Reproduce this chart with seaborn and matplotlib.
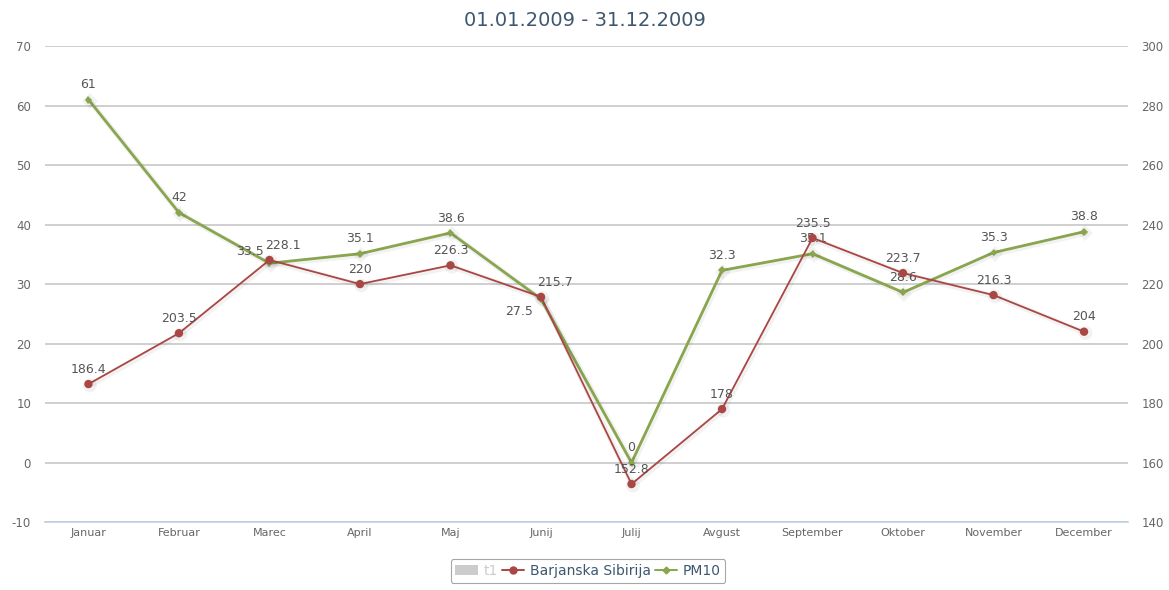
import matplotlib
matplotlib.use("Agg")
import matplotlib.pyplot as plt
import matplotlib.patheffects as pe
from matplotlib.lines import Line2D
from matplotlib.patches import Patch
import seaborn as sns
import pandas as pd

months = ["Januar", "Februar", "Marec", "April", "Maj", "Junij", "Julij",
          "Avgust", "September", "Oktober", "November", "December"]
pm10 = [61, 42, 33.5, 35.1, 38.6, 27.5, 0, 32.3, 35.1, 28.6, 35.3, 38.8]
sibirija = [186.4, 203.5, 228.1, 220, 226.3, 215.7, 152.8, 178, 235.5, 223.7, 216.3, 204]
title = "01.01.2009 - 31.12.2009"

RED = "#AA4643"
GREEN = "#89A54E"
GRID = "#CFCFCF"
AXIS = "#C0D0E0"
LABEL = "#666666"

sns.set_theme(style="white")
plt.rcParams["font.family"] = ["DejaVu Sans"]
plt.rcParams["axes.unicode_minus"] = False

df = pd.DataFrame({"month": months, "x": range(len(months)),
                   "pm10": pm10, "sibirija": sibirija})

fig = plt.figure(figsize=(11.69, 5.90), dpi=100)
ax = fig.add_axes([0.0385, 0.115, 0.926, 0.807])
ax2 = ax.twinx()

shadow = [pe.SimpleLineShadow(offset=(1, -1), shadow_color="#000000", alpha=0.05, linewidth=4),
          pe.Normal()]

sns.lineplot(data=df, x="x", y="pm10", ax=ax, color=GREEN, lw=2,
             marker="D", markersize=4, markeredgewidth=0, zorder=3,
             path_effects=shadow)
sns.lineplot(data=df, x="x", y="sibirija", ax=ax2, color=RED, lw=1.3,
             marker="o", markersize=6, markeredgewidth=0, zorder=4,
             path_effects=shadow)

ax.set_xlim(-0.48, len(months) - 0.52)
ax.set_ylim(-10, 70)
ax2.set_ylim(140, 300)
ax.set_yticks(range(-10, 71, 10))
ax2.set_yticks(range(140, 301, 20))

ax.grid(axis="y", color=GRID, lw=1.4)
ax.set_axisbelow(True)
for a in (ax, ax2):
    for s in a.spines.values():
        s.set_visible(False)
    a.set_xlabel("")
    a.set_ylabel("")
    a.tick_params(axis="y", length=0, labelsize=8.5, labelcolor=LABEL, pad=10)
ax.spines["bottom"].set_visible(True)
ax.spines["bottom"].set_color(AXIS)
ax.spines["bottom"].set_linewidth(1.2)

ax.set_xticks(range(len(months)))
ax.set_xticklabels(months)
ax.tick_params(axis="x", length=5, color=AXIS, width=1, labelsize=8,
               labelcolor=LABEL, pad=2, direction="inout")

# value labels above each point; a few PM10 labels shifted where the series cross
pm10_offsets = {2: (-14, 4), 5: (-16, -4)}
for i, v in enumerate(pm10):
    dx, dy = pm10_offsets.get(i, (0, 6))
    ax.annotate(f"{v:g}", (i, v), xytext=(dx, dy), textcoords="offset points",
                ha="center", va="bottom" if dy > 0 else "top",
                fontsize=9, color="#555555", zorder=6)
sib_offsets = {2: (10, 6), 5: (10, 6)}
for i, v in enumerate(sibirija):
    dx, dy = sib_offsets.get(i, (0, 6))
    ax2.annotate(f"{v:g}", (i, v), xytext=(dx, dy), textcoords="offset points",
                 ha="center", va="bottom", fontsize=9, color="#555555", zorder=6)

fig.text(0.5, 0.965, title, ha="center", va="center", fontsize=14, color="#3E576F")

handles = [
    Patch(facecolor="#CCCCCC", edgecolor="none"),
    Line2D([], [], color=RED, marker="o", markersize=5, lw=1.4),
    Line2D([], [], color=GREEN, marker="D", markersize=3.5, lw=1.4),
]
leg = fig.legend(handles, ["t1", "Barjanska Sibirija", "PM10"], loc="lower center",
                 bbox_to_anchor=(0.503, 0.0), ncol=3, frameon=True, fontsize=10,
                 handlelength=1.6, handletextpad=0.4, columnspacing=0.3,
                 borderpad=0.35, fancybox=True)
leg.get_frame().set_edgecolor("#909090")
leg.get_frame().set_linewidth(0.8)
texts = leg.get_texts()
texts[0].set_color("#CCCCCC")
for t in texts[1:]:
    t.set_color("#3E576F")

fig.savefig("out.png", dpi=100)
